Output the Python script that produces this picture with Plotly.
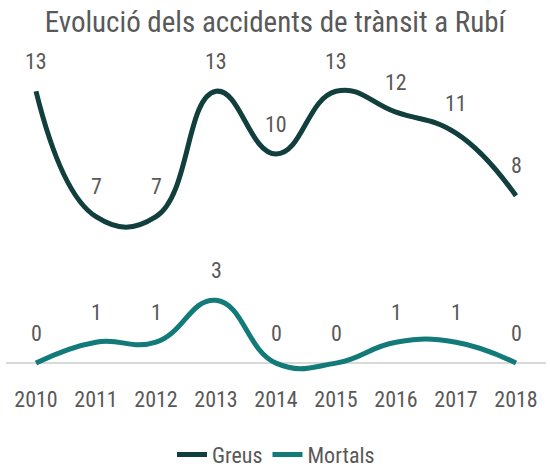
import plotly.graph_objects as go

years = ["2010", "2011", "2012", "2013", "2014", "2015", "2016", "2017", "2018"]
greus = [13, 7, 7, 13, 10, 13, 12, 11, 8]
mortals = [0, 1, 1, 3, 0, 0, 1, 1, 0]

FONT = "Roboto Condensed, DejaVu Sans Condensed, Roboto, sans-serif"
GREY = "#595959"
C_GREUS = "#113f3d"
C_MORT = "#127a78"

fig = go.Figure()
fig.add_trace(go.Scatter(x=years, y=greus, name="Greus", mode="lines",
                         line=dict(color=C_GREUS, width=5, shape="spline", smoothing=1.3)))
fig.add_trace(go.Scatter(x=years, y=mortals, name="Mortals", mode="lines",
                         line=dict(color=C_MORT, width=5, shape="spline", smoothing=1.3)))

for series in (greus, mortals):
    for i, v in enumerate(series):
        fig.add_annotation(x=i, y=v, xref="x", yref="y", text=str(v), showarrow=False,
                           yshift=30, yanchor="middle",
                           font=dict(family=FONT, size=22, color=GREY))

fig.update_layout(
    width=550, height=469,
    margin=dict(l=6, r=4, t=39, b=85, autoexpand=False),
    paper_bgcolor="white", plot_bgcolor="white",
    title=dict(text="Evolució dels accidents de trànsit a Rubí", x=0.5, xanchor="center",
               y=1 - 22 / 469, yanchor="middle", font=dict(family=FONT, size=29, color=GREY)),
    font=dict(family=FONT, color=GREY, size=20),
    xaxis=dict(type="category", range=[-0.5, 8.5], showgrid=False, showline=False,
               ticks="", automargin=False, tickfont=dict(family=FONT, size=22, color=GREY)),
    yaxis=dict(range=[-1, 15.5], showgrid=False, showticklabels=False, zeroline=True,
               automargin=False, zerolinecolor="#d9d9d9", zerolinewidth=1.5),
    legend=dict(orientation="h", x=0.5, xanchor="center", y=-0.205, yanchor="middle",
                font=dict(family=FONT, size=22, color=GREY)),
    showlegend=True,
)

fig.write_html("out.html", config={"displayModeBar": False},
               post_script="document.body.style.margin='0';")
